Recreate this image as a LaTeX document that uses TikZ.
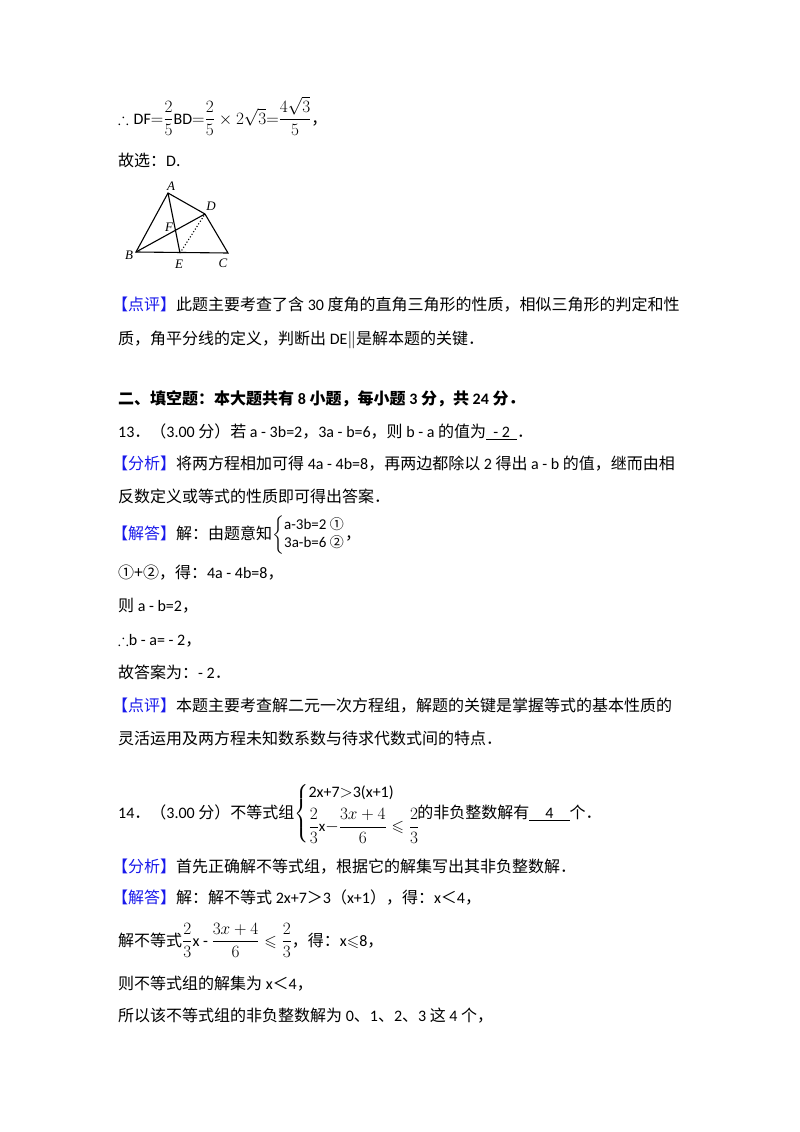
\documentclass[tikz,border=0pt]{standalone}
\usepackage{amsmath,amssymb}
\usepackage{fontspec}
\setmainfont{Noto Sans CJK SC}
\newfontfamily\lat{Carlito}
\definecolor{hl}{RGB}{25,25,235}
\begin{document}
\begin{tikzpicture}[x=1pt,y=-1pt,
  t/.style={anchor=base west,inner sep=0,font=\fontsize{16}{19}\selectfont},
  lab/.style={inner sep=0,font=\fontsize{13}{15}\selectfont\itshape\rmfamily\fontspec{Liberation Serif}},
  seg/.style={line width=1.1pt}]
\useasboundingbox[fill=white] (0,0) rectangle (800,1132);
\newcommand\hb[1]{\textcolor{hl}{【#1】}}
\node[t] (l1) at (118,124) {$\therefore\mbox{\lat DF}{=}\dfrac{2}{5}\mbox{\lat BD}{=}\dfrac{2}{5}\times2\sqrt{3}{=}\dfrac{4\sqrt{3}}{5}$，};
\node[t] (l2) at (118,166) {故选：{\lat D}.};
% triangle
\coordinate (A) at (168,193);
\coordinate (D) at (205,214);
\coordinate (B) at (136,252);
\coordinate (E) at (180,253);
\coordinate (C) at (228,253);
\draw[seg] (A)--(B)--(C)--(D)--cycle;
\draw[seg] (A)--(E) (B)--(D);
\draw[seg,dotted] (E)--(D);
\node[lab] (la) at (171,186) {A};
\node[lab] (ld) at (211,206) {D};
\node[lab] (lf) at (169,227) {F};
\node[lab] (lb) at (129,255) {B};
\node[lab] (le) at (179,264) {E};
\node[lab] (lc) at (223,263) {C};
\node[t] (p1) at (112,310) {\hb{点评}此题主要考查了含 {\lat 30} 度角的直角三角形的性质，相似三角形的判定和性};
\node[t] (p2) at (118,344) {质，角平分线的定义，判断出 {\lat DE}$\parallel$是解本题的关键．};
\node[t] (s2) at (118,404) {\textbf{二、填空题：本大题共有 {\lat 8} 小题，每小题 {\lat 3} 分，共 {\lat 24} 分．}};
\node[t] (q13) at (118,437) {{\lat 13}．（{\lat 3.00} 分）若 {\lat a - 3b=2}，{\lat 3a - b=6}，则 {\lat b - a} 的值为\underline{\ \ {\lat - 2}\ \ }．};
\node[t] (f1) at (112,469) {\hb{分析}将两方程相加可得 {\lat 4a - 4b=8}，再两边都除以 {\lat 2} 得出 {\lat a - b} 的值，继而由相};
\node[t] (f2) at (118,502) {反数定义或等式的性质即可得出答案．};
\node[t] (j1) at (112,539) {\hb{解答}解：由题意知$\left\{\begin{array}{@{}l@{}}\mbox{\fontsize{15}{16}\selectfont\lat a-3b=2 }\mbox{\fontsize{14}{16}\selectfont ①}\\[-1pt]\mbox{\fontsize{15}{16}\selectfont\lat 3a-b=6 }\mbox{\fontsize{14}{16}\selectfont ②}\end{array}\right.$，};
\node[t] (j2) at (118,578) {①+②，得：{\lat 4a - 4b=8}，};
\node[t] (j3) at (118,611) {则 {\lat a - b=2}，};
\node[t] (j4) at (118,645) {$\therefore${\lat b - a= - 2}，};
\node[t] (j5) at (118,678) {故答案为：{\lat - 2}．};
\node[t] (d1) at (112,711) {\hb{点评}本题主要考查解二元一次方程组，解题的关键是掌握等式的基本性质的};
\node[t] (d2) at (118,744) {灵活运用及两方程未知数系数与待求代数式间的特点．};
\node[t] (q14) at (118,818) {{\lat 14}．（{\lat 3.00} 分）不等式组$\left\{\begin{array}{@{}l@{}}\mbox{\fontsize{16}{16}\selectfont\lat 2x+7}{>}\mbox{\fontsize{16}{16}\selectfont\lat 3(x+1)}\\[6pt]\dfrac{2}{3}\mbox{\fontsize{15}{16}\selectfont\lat x}{-}\dfrac{3x+4}{6}\leqslant\dfrac{2}{3}\end{array}\right.$\hspace{-3pt}的非负整数解有\underline{\quad{\lat 4}\quad}个．};
\node[t] (g1) at (112,872) {\hb{分析}首先正确解不等式组，根据它的解集写出其非负整数解．};
\node[t] (k1) at (112,903) {\hb{解答}解：解不等式 {\lat 2x+7}＞{\lat 3}（{\lat x+1}），得：{\lat x}＜{\lat 4}，};
\node[t] (k2) at (118,946) {解不等式$\dfrac{2}{3}${\lat x - }$\dfrac{3x+4}{6}\leqslant\dfrac{2}{3}$，得：{\lat x}$\leqslant${\lat 8}，};
\node[t] (k3) at (118,989) {则不等式组的解集为 {\lat x}＜{\lat 4}，};
\node[t] (k4) at (118,1021) {所以该不等式组的非负整数解为 {\lat 0}、{\lat 1}、{\lat 2}、{\lat 3} 这 {\lat 4} 个，};
\end{tikzpicture}
\end{document}
